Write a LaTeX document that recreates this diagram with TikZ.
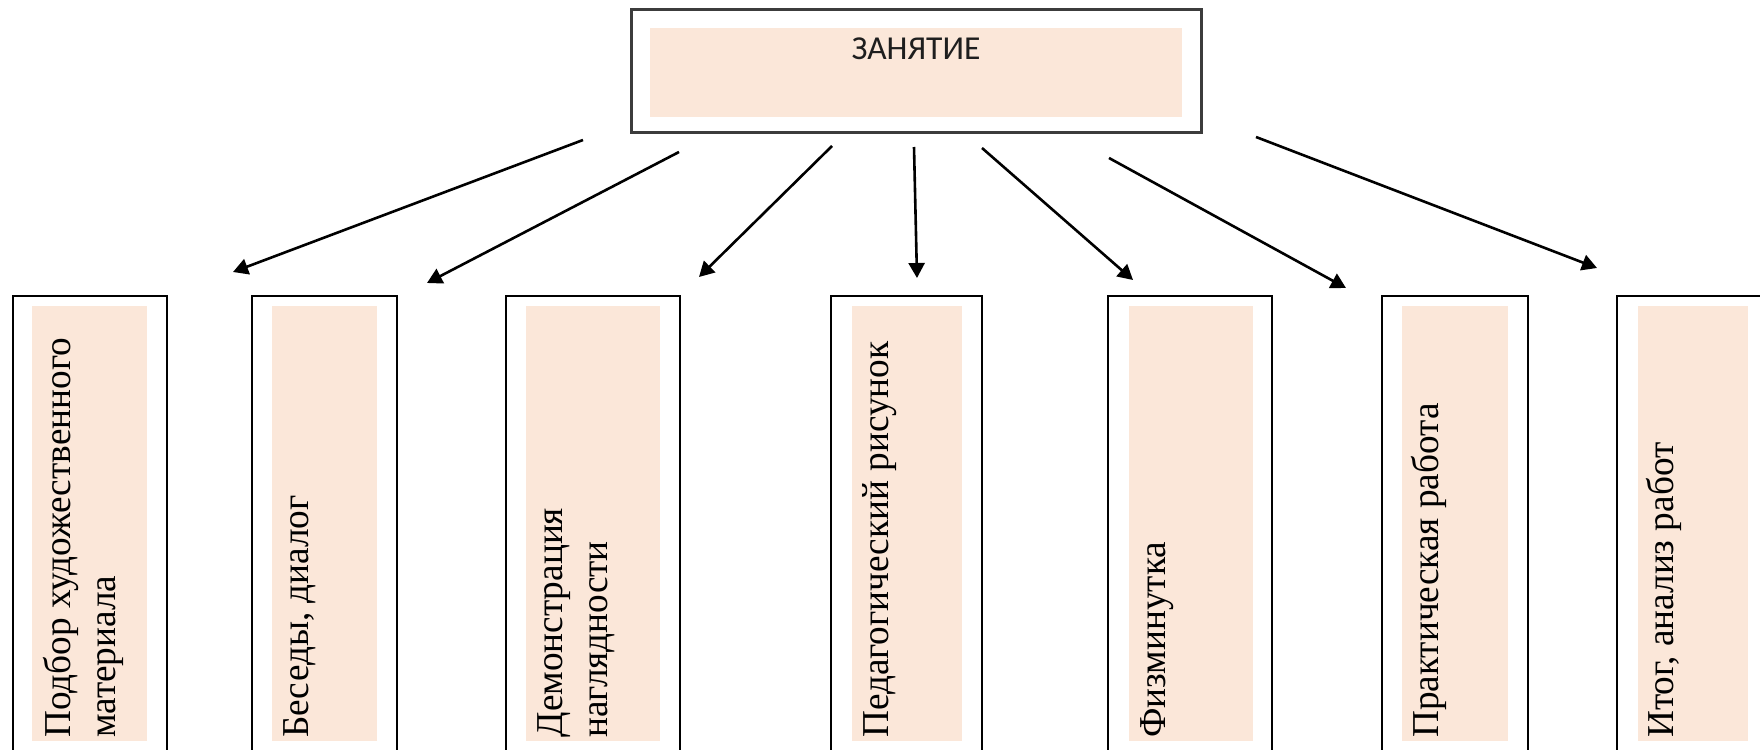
\documentclass[tikz,border=0pt]{standalone}
\usepackage{fontspec}
\setmainfont{Liberation Serif}
\newfontfamily\capfont{Carlito}
\usetikzlibrary{arrows.meta}
\definecolor{peach}{RGB}{251,231,217}
\definecolor{framegray}{RGB}{60,60,60}
\definecolor{textgray}{RGB}{30,30,30}
\tikzset{
  outerbox/.style={draw=black, line width=2pt, fill=white, inner sep=0pt, outer sep=0pt},
  fillbox/.style={fill=peach, inner sep=0pt, outer sep=0pt},
  vlabel/.style={rotate=90, xscale=0.98, anchor=base west, inner sep=0pt, font=\fontsize{38}{45}\selectfont},
  conn/.style={line width=2.6pt, -{Triangle[length=15pt,width=16pt]}},
}
\begin{document}
\begin{tikzpicture}[x=1pt,y=-1pt]
\useasboundingbox (0,0) rectangle (1760,749);
\clip (0,0) rectangle (1760,749);
% top box
\node[outerbox, draw=framegray, line width=3pt, minimum width=570pt, minimum height=122pt] (top) at (916,71) {};
\node[fillbox, minimum width=532pt, minimum height=89pt] (topfill) at (916,72.5) {};
\node[font=\capfont\fontsize{33.5}{38}\selectfont, text=textgray, inner sep=0pt] (toptext) at (916,49) {ЗАНЯТИЕ};
% bottom boxes
\foreach \i/\xl/\xr/\fl/\fr in {1/13/167/32/147, 2/252/397/272/377, 3/506/680/526/660, 4/831/982/852/962, 5/1108/1272/1129/1253, 6/1382/1528/1402/1508, 7/1617/1772/1638/1748}{
  \pgfmathsetmacro\cx{(\xl+\xr)/2}
  \pgfmathsetmacro\w{\xr-\xl}
  \pgfmathsetmacro\fcx{(\fl+\fr)/2}
  \pgfmathsetmacro\fw{\fr-\fl}
  \node[outerbox, minimum width=\w pt, minimum height=464pt] (box\i) at (\cx,528) {};
  \node[fillbox, minimum width=\fw pt, minimum height=435pt] (fill\i) at (\fcx,523.5) {};
}
% labels
\node[vlabel] (t1) at (70,738) {Подбор художественного};
\node[vlabel] (t1b) at (115,738) {материала};
\node[vlabel] (t2) at (308,738) {Беседы, диалог};
\node[vlabel] (t3) at (562,738) {Демонстрация};
\node[vlabel] (t3b) at (607,738) {наглядности};
\node[vlabel] (t4) at (888,738) {Педагогический рисунок};
\node[vlabel] (t5) at (1165,738) {Физминутка};
\node[vlabel] (t6) at (1438,738) {Практическая работа};
\node[vlabel] (t7) at (1673,738) {Итог, анализ работ};
% connectors
\coordinate (s1) at (583,140); \coordinate (e1) at (233,272);
\coordinate (s2) at (679,152); \coordinate (e2) at (427,283);
\coordinate (s3) at (832,146); \coordinate (e3) at (699,277);
\coordinate (s4) at (914,147); \coordinate (e4) at (917,278);
\coordinate (s5) at (982,148); \coordinate (e5) at (1133,280);
\coordinate (s6) at (1109,158); \coordinate (e6) at (1346,288);
\coordinate (s7) at (1256,137); \coordinate (e7) at (1597,268);
\foreach \k in {1,...,7}{\draw[conn] (s\k) -- (e\k);}
\end{tikzpicture}
\end{document}
